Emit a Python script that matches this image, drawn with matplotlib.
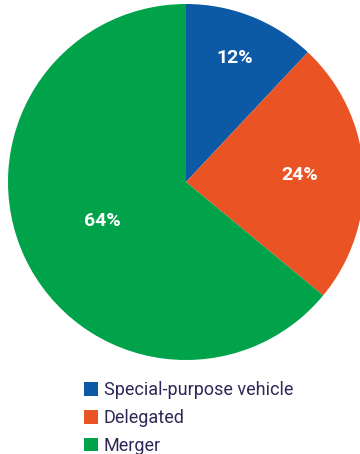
import numpy as np
import matplotlib
matplotlib.use("Agg")
import matplotlib.pyplot as plt
from matplotlib.patches import Patch

plt.rcParams['font.family'] = ['Roboto', 'DejaVu Sans']

categories = ["Special-purpose vehicle", "Delegated", "Merger"]
shares = [12, 24, 64]
colors = ["#0c5aa6", "#ea5424", "#00a34a"]

W, H = 360, 454
fig = plt.figure(figsize=(W / 100, H / 100), dpi=100)
fig.patch.set_facecolor("white")

# pie centred at (186, 182) px from top-left, radius 178 px
cx, cy, r = 186, 182, 178
ax = fig.add_axes([(cx - r) / W, (H - cy - r) / H, 2 * r / W, 2 * r / H])
wedges, _ = ax.pie(shares, colors=colors, startangle=90, counterclock=False,
                   radius=1.0, wedgeprops=dict(linewidth=0))
ax.set_xlim(-1, 1)
ax.set_ylim(-1, 1)
ax.set_aspect("equal")
ax.axis("off")

# percentage labels inside each wedge
label_radii = [0.75, 0.64, 0.52]
for w, val, rr in zip(wedges, shares, label_radii):
    mid = np.deg2rad((w.theta1 + w.theta2) / 2)
    ax.text(rr * np.cos(mid), rr * np.sin(mid), f"{val}%", color="white",
            fontsize=14, fontweight="bold", ha="center", va="center")

handles = [Patch(facecolor=c, edgecolor="none") for c in colors]
fig.legend(handles, categories, loc="upper left",
           bbox_to_anchor=(84 / W, 1 - 381 / H), frameon=False,
           fontsize=13, labelcolor="#2e2857", handlelength=0.8,
           handleheight=0.8, handletextpad=0.3, labelspacing=0.55,
           borderpad=0, borderaxespad=0)

fig.savefig("out.png", dpi=100, facecolor="white")
